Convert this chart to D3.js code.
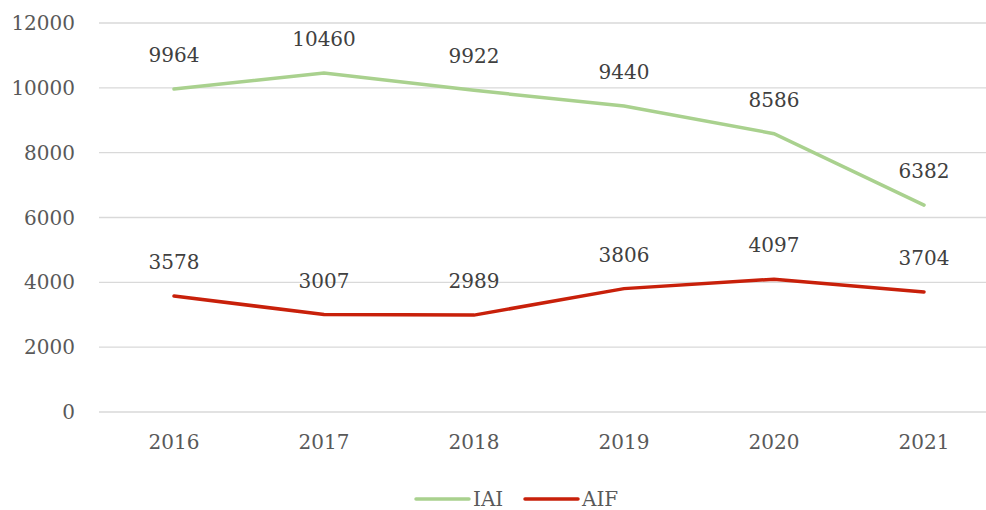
<!DOCTYPE html>
<html>
<head>
<meta charset="utf-8">
<script src="https://cdn.jsdelivr.net/npm/d3@7"></script>
<style>
  body { margin: 0; background: #fff; overflow: hidden; }
  svg { display: block; }
  text { font-family: "DejaVu Serif", serif; }
</style>
</head>
<body>
<div></div>
<script>
var years = ["2016", "2017", "2018", "2019", "2020", "2021"];
var iai = [9964, 10460, 9922, 9440, 8586, 6382];
var aif = [3578, 3007, 2989, 3806, 4097, 3704];
var yTicks = [0, 2000, 4000, 6000, 8000, 10000, 12000];

var series = [
  { name: "IAI", values: iai, color: "#a9d18e" },
  { name: "AIF", values: aif, color: "#c8200a" }
];

var outerWidth = 986;
var outerHeight = 510;
var margin = { left: 99, top: 23, right: 0, bottom: 98 };
var innerWidth = outerWidth - margin.left - margin.right;
var innerHeight = outerHeight - margin.top - margin.bottom;

var svg = d3.select("div").append("svg")
  .attr("width", outerWidth)
  .attr("height", outerHeight);

var g = svg.append("g")
  .attr("transform", "translate(" + margin.left + "," + margin.top + ")");

// each year gets a 150px slot; the plot runs a little past the right edge
var xScale = d3.scalePoint().domain(years).range([75, 825]);
var yScale = d3.scaleLinear().domain([0, 12000]).range([innerHeight, 0]);

// gridlines
g.selectAll("line.grid").data(yTicks).enter().append("line")
  .attr("class", "grid")
  .attr("x1", 0).attr("x2", innerWidth)
  .attr("y1", function (d) { return yScale(d); })
  .attr("y2", function (d) { return yScale(d); })
  .attr("stroke", "#d9d9d9")
  .attr("stroke-width", 1.3);

// y axis labels
g.selectAll("text.ylab").data(yTicks).enter().append("text")
  .attr("class", "ylab")
  .attr("x", -24)
  .attr("y", function (d) { return yScale(d) + 7; })
  .attr("text-anchor", "end")
  .attr("font-size", 20)
  .attr("fill", "#595959")
  .text(function (d) { return d; });

// x axis labels
g.selectAll("text.xlab").data(years).enter().append("text")
  .attr("class", "xlab")
  .attr("x", function (d) { return xScale(d); })
  .attr("y", innerHeight + 37)
  .attr("text-anchor", "middle")
  .attr("font-size", 20)
  .attr("fill", "#595959")
  .text(function (d) { return d; });

var line = d3.line()
  .x(function (d, i) { return xScale(years[i]); })
  .y(function (d) { return yScale(d); });

series.forEach(function (s) {
  g.append("path")
    .datum(s.values)
    .attr("fill", "none")
    .attr("stroke", s.color)
    .attr("stroke-width", 3.5)
    .attr("stroke-linecap", "round")
    .attr("d", line);

  g.selectAll(null).data(s.values).enter().append("text")
    .attr("x", function (d, i) { return xScale(years[i]); })
    .attr("y", function (d) { return yScale(d) - 27; })
    .attr("text-anchor", "middle")
    .attr("font-size", 20)
    .attr("fill", "#404040")
    .text(function (d) { return d; });
});

// legend
var legend = svg.append("g").attr("transform", "translate(416,499)");
var lx = 0;
series.forEach(function (s) {
  var item = legend.append("g").attr("transform", "translate(" + lx + ",0)");
  item.append("line")
    .attr("x1", 0).attr("x2", 53).attr("y1", 0).attr("y2", 0)
    .attr("stroke", s.color).attr("stroke-width", 3.5).attr("stroke-linecap", "round");
  item.append("text")
    .attr("x", 57).attr("y", 7)
    .attr("font-size", 20)
    .attr("fill", "#595959")
    .text(s.name);
  lx += 109;
});
</script>
</body>
</html>
